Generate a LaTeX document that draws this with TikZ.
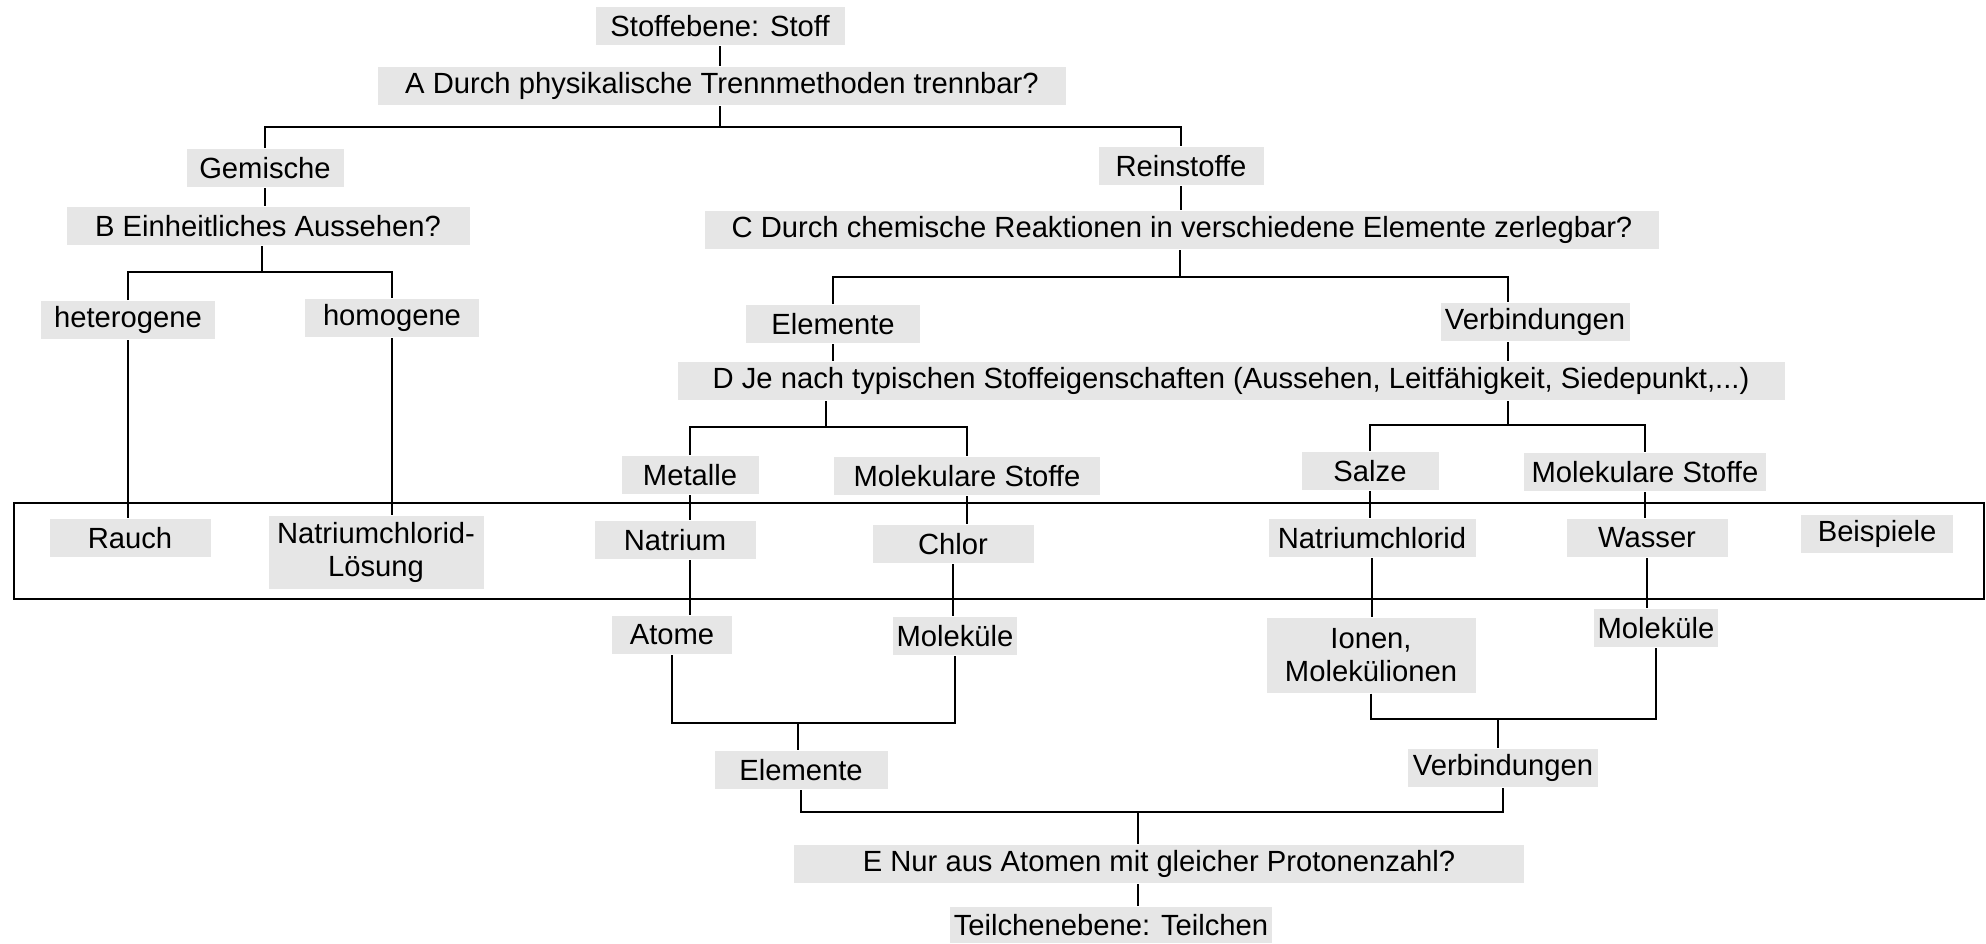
\documentclass[tikz,border=0pt]{standalone}
\usepackage{fontspec}
\setmainfont{Liberation Sans}
\usepackage{tikz}
\definecolor{boxgray}{RGB}{230,230,230}
\newcommand\boxfont{\fontsize{14.6pt}{16.5pt}\selectfont}

\begin{document}
\begin{tikzpicture}[x=0.5pt,y=-0.5pt,line width=1pt]
        \tikzstyle{box}=[fill=boxgray, inner xsep=2pt, inner ysep=1pt, minimum height=19pt, align=center, font=\boxfont]
        \useasboundingbox (0,0) rectangle (1986,943);
        \draw [line width=1.2pt] (14,503) rectangle (1984,599);
        \node [box, minimum width=124.5pt] (stoff) at (720,26) {Stoffebene: Stoff};
        \node [box, minimum width=344pt] (qa) at (722,86) {A Durch physikalische Trennmethoden trennbar?};
        \node [box, minimum width=78.5pt] (gem) at (265,168) {Gemische};
        \node [box, minimum width=82.5pt] (rein) at (1181,166) {Reinstoffe};
        \node [box, minimum width=201.5pt] (qb) at (268,226) {B Einheitliches Aussehen?};
        \node [box, minimum width=87pt] (het) at (128,320) {heterogene};
        \node [box, minimum width=87pt] (hom) at (392,318) {homogene};
        \node [box, minimum width=477pt] (qc) at (1182,230) {C Durch chemische Reaktionen in verschiedene Elemente zerlegbar?};
        \node [box, minimum width=87pt] (elem1) at (833,324) {Elemente};
        \node [box, minimum width=94.5pt] (verb1) at (1535,322) {Verbindungen};
        \node [box, minimum width=553.5pt] (qd) at (1231,381) {D Je nach typischen Stoffeigenschaften (Aussehen, Leitf\"ahigkeit, Siedepunkt,...)};
        \node [box, minimum width=68.5pt] (metalle) at (690,475) {Metalle};
        \node [box, minimum width=133pt] (molek1) at (967,476) {Molekulare Stoffe};
        \node [box, minimum width=68.5pt] (salze) at (1370,471) {Salze};
        \node [box, minimum width=121pt] (molek2) at (1645,472) {Molekulare Stoffe};
        \node [box, minimum width=80.5pt] (rauch) at (130,538) {Rauch};
        \node [box, minimum width=107.5pt, minimum height=36.5pt] (nacll) at (376,552) {Natriumchlorid-\\L\"osung};
        \node [box, minimum width=80.5pt] (natrium) at (675,540) {Natrium};
        \node [box, minimum width=80.5pt] (chlor) at (953,544) {Chlor};
        \node [box, minimum width=103.5pt] (nacl) at (1372,538) {Natriumchlorid};
        \node [box, minimum width=80.5pt] (wasser) at (1647,538) {Wasser};
        \node [box, minimum width=76pt] (beisp) at (1877,534) {Beispiele};
        \node [box, minimum width=60pt] (atome) at (672,635) {Atome};
        \node [box, minimum width=59.5pt] (molekuel1) at (955,636) {Molek\"ule};
        \node [box, minimum width=104.5pt, minimum height=37.5pt] (ionen) at (1371,655) {Ionen,\\Molek\"ulionen};
        \node [box, minimum width=59.5pt] (molekuel2) at (1656,628) {Molek\"ule};
        \node [box, minimum width=86.5pt] (elem2) at (801,770) {Elemente};
        \node [box, minimum width=95pt] (verb2) at (1503,768) {Verbindungen};
        \node [box, minimum width=365pt] (qe) at (1159,864) {E Nur aus Atomen mit gleicher Protonenzahl?};
        \node [box, minimum width=160.5pt, minimum height=18pt] (teil) at (1111,925) {Teilchenebene: Teilchen};
        \coordinate (ja) at (720,127);
        \coordinate (jb) at (262,272);
        \coordinate (jc) at (1180,277);
        \coordinate (jd1) at (826,427);
        \coordinate (jd2) at (1508,425);
        \coordinate (je) at (798,723);
        \coordinate (jv) at (1498,719);
        \coordinate (jf) at (1138,812);
        \draw (stoff.south) -- (stoff.south |- qa.north);
        \draw (qa.south -| ja) -- (ja);
        \draw (gem.north) |- (ja) -| (rein.north);
        \draw (gem.south) -- (gem.south |- qb.north);
        \draw (qb.south -| jb) -- (jb);
        \draw (het.north) |- (jb) -| (hom.north);
        \draw (het.south) -- (het.south |- rauch.north);
        \draw (hom.south) -- (hom.south |- nacll.north);
        \draw (rein.south) -- (rein.south |- qc.north);
        \draw (qc.south -| jc) -- (jc);
        \draw (elem1.north) |- (jc) -| (jd2 |- verb1.north);
        \draw (elem1.south) -- (elem1.south |- qd.north);
        \draw (jd2 |- verb1.south) -- (jd2 |- qd.north);
        \draw (qd.south -| jd1) -- (jd1);
        \draw (metalle.north) |- (jd1) -| (molek1.north);
        \draw (qd.south -| jd2) -- (jd2);
        \draw (salze.north) |- (jd2) -| (molek2.north);
        \draw (metalle.south) -- (metalle.south |- natrium.north);
        \draw (molek1.south) -- (molek1.south |- chlor.north);
        \draw (salze.south) -- (salze.south |- nacl.north);
        \draw (molek2.south) -- (molek2.south |- wasser.north);
        \draw (natrium.south -| metalle) -- (atome.north -| metalle);
        \draw (chlor.south) -- (chlor.south |- molekuel1.north);
        \draw (nacl.south) -- (nacl.south |- ionen.north);
        \draw (wasser.south) -- (wasser.south |- molekuel2.north);
        \draw (atome.south) |- (je) -| (molekuel1.south);
        \draw (je) -- (je |- elem2.north);
        \draw (ionen.south) |- (jv) -| (molekuel2.south);
        \draw (jv) -- (jv |- verb2.north);
        \draw (elem2.south) |- (jf) -| (verb2.south);
        \draw (jf) -- (jf |- qe.north);
        \draw (qe.south -| jf) -- (teil.north -| jf);
    \end{tikzpicture}
\end{document}
